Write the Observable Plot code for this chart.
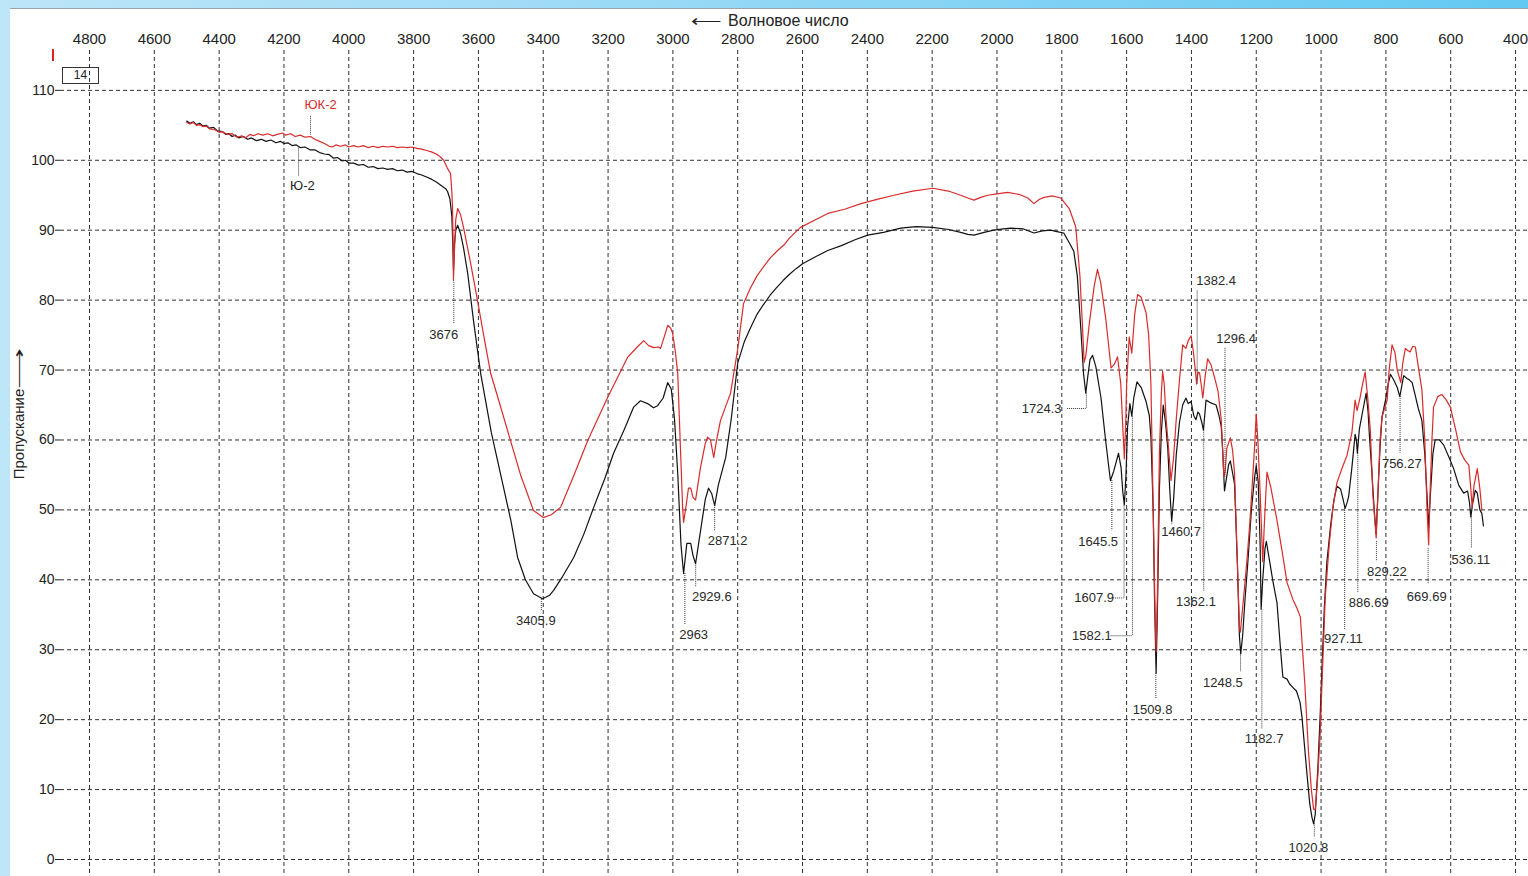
<!DOCTYPE html>
<html>
<head>
<meta charset="utf-8">
<script src="https://cdn.jsdelivr.net/npm/d3@7"></script>
<script src="https://cdn.jsdelivr.net/npm/@observablehq/plot@0.6"></script>
<style>
  html, body { margin: 0; padding: 0; }
  body {
    width: 1528px; height: 876px; overflow: hidden; position: relative;
    background: linear-gradient(to right, #bde6f8 0%, #9bdaf6 40%, #62c9f2 100%);
    font-family: "Liberation Sans", Arial, sans-serif;
  }
  #panel {
    position: absolute; left: 10px; top: 8px; width: 1518px; height: 868px;
    background: #fff; border-top: 1px solid #9aa4aa; box-sizing: border-box;
  }
  #chart { position: absolute; left: 0; top: -1px; }
  .ov { position: absolute; color: #222; white-space: nowrap; }
  .arr { display: inline-block; transform: scaleX(1.9); transform-origin: 50% 50%; margin: 0 9px; }
  .tarr { display: inline-block; transform: scaleX(1.33); transform-origin: 50% 50%; margin: 0 10px 0 0; }
  #title { left: 685px; top: 2px; font-size: 16px; }
  #ylabel { left: 0px; top: 405px; font-size: 15px; transform-origin: 0 0; transform: rotate(-90deg) translate(-50%, 0); }
  #mark { left: 42px; top: 40px; width: 2px; height: 12px; background: #e02020; }
  #box { left: 52px; top: 58px; width: 35px; height: 15px; border: 1px solid #333; font-size: 12px; text-align: center; line-height: 15px; }
</style>
</head>
<body>
<div id="panel">
  <div id="chart"></div>
  <div class="ov" id="title"><span class="tarr">⟵</span>Волновое число</div>
  <div class="ov" id="ylabel">Пропускание<span class="arr">⟶</span></div>
  <div class="ov" id="mark"></div>
  <div class="ov" id="box">14</div>
</div>
<script>
// ---- Data ----
const xTicks = [4800, 4600, 4400, 4200, 4000, 3800, 3600, 3400, 3200, 3000, 2800, 2600, 2400, 2200, 2000, 1800, 1600, 1400, 1200, 1000, 800, 600, 400];
const yTicks = [0, 10, 20, 30, 40, 50, 60, 70, 80, 90, 100, 110];

// Series "Ю-2" (black)
const wnBlack = [4500,4490,4480,4470,4460,4450,4440,4430,4417,4405,4390,4380,4370,4360,4350,4340,4325,4312,4300,4285,4270,4255,4240,4225,4210,4200,4188,4175,4162,4149,4135,4120,4105,4090,4075,4060,4047,4035,4020,4010,4000,3985,3970,3955,3940,3925,3910,3895,3880,3865,3850,3835,3820,3805,3790,3775,3760,3745,3730,3715,3700,3695,3688,3682,3679,3677,3674,3670,3664,3655,3646,3633,3615,3593,3560,3532,3500,3479,3455,3430,3402,3380,3368,3340,3306,3275,3244,3210,3183,3150,3121,3100,3078,3060,3047,3030,3016,3005,2995,2985,2975,2967,2957,2945,2938,2930,2918,2900,2890,2880,2871,2860,2837,2820,2800,2780,2760,2740,2720,2700,2680,2660,2640,2620,2600,2560,2522,2480,2440,2399,2350,2297,2250,2198,2150,2112,2090,2071,2040,2010,1980,1957,1920,1886,1860,1834,1815,1794,1777,1763,1752,1741,1733,1726,1720,1713,1705,1695,1679,1665,1650,1640,1625,1617,1612,1607,1602,1597,1590,1584,1578,1568,1555,1540,1530,1525,1518,1514,1509,1504,1499,1493,1487,1480,1473,1467,1461,1455,1447,1437,1427,1417,1410,1401,1393,1386,1380,1375,1368,1363,1355,1340,1324,1315,1308,1303,1298,1292,1285,1280,1274,1267,1258,1252,1248,1242,1235,1226,1215,1205,1200,1194,1188,1185,1180,1173,1169,1160,1149,1136,1125,1118,1105,1097,1085,1076,1065,1059,1045,1035,1028,1023,1018,1010,1003,995,990,982,970,960,951,940,932,926,920,915,905,895,891,888,882,870,861,855,850,844,836,830,825,818,812,800,793,786,775,765,757,750,745,735,728,719,710,700,689,680,673,668,663,655,648,635,622,605,591,575,560,548,542,538,532,524,518,510,504,499];
const tBlack = [105.6,105.3,105.5,105.1,105.3,104.9,105.0,104.6,104.7,104.2,104.1,103.7,103.8,103.4,103.6,103.2,103.4,103.0,103.2,102.8,103.0,102.7,102.9,102.5,102.7,102.4,102.5,102.1,102.2,101.8,101.9,101.5,101.5,101.1,100.9,100.8,100.3,100.4,99.9,100.0,99.6,99.6,99.3,99.4,99.0,99.1,98.8,98.9,98.7,98.8,98.5,98.6,98.3,98.4,98.1,97.9,97.6,97.3,96.9,96.4,95.9,95.5,94.5,92,88,84.3,88,90,90.7,89.5,87.5,83.8,77,69.5,61,55.2,48.5,43.2,40,38,37.3,37.8,38.5,40.5,43.2,46.5,50.4,54.5,58.1,61.5,64.7,65.6,65.2,64.6,64.9,66,68.2,67.3,63,55.2,45,40.9,45.2,45.2,43.5,42.3,46,51.5,53.1,52.3,50.6,53.5,57.5,63,71,74,76.1,78,79.4,80.7,81.8,82.8,83.7,84.5,85.2,86.2,87.1,87.8,88.6,89.3,89.7,90.3,90.5,90.4,90.1,89.7,89.4,89.3,89.7,90,90.2,90.3,90.2,89.6,89.9,90,89.8,89.6,88.2,87,83.4,75.7,69.5,66.7,69,71.5,72.1,70.5,66,60,54.2,55.5,58.1,56,52.7,50.7,55,61.9,65.2,63.4,66,68.3,67.5,65.5,63.5,60.4,50,37.4,26.6,38,52.7,61,65,62.5,58.8,53,48.4,51.5,57.8,62.5,65,66,65.2,65.5,63.5,62.9,64,63.7,62.5,61.4,65.7,65.3,65,63.5,61.9,58,52.7,54.5,56.5,57,55.5,53.7,42,32,29.4,32,37,42.5,50,54.7,56.3,54,45,35.8,40,44.5,45.5,43,39.9,36.7,30,26.1,25.8,25.1,24.5,24.1,22.5,20.4,13,8,6,5.1,6.5,13,20.4,30,36,42.6,48,51.5,53.4,53,51.5,50.2,51,51.9,56,60.8,60,58.1,61.5,64.5,66.7,64,60,55.9,50,46.5,52,59,63.3,66,68,69.4,68.5,67.5,66.2,68,69.2,68.8,68.6,68.2,66.5,64.5,62.8,58,52,47.5,52,58,60,60,59.3,57.5,55.9,53.5,52.4,52.7,51,49,51,52.8,52.4,50,49.5,47.7];

// Series "ЮК-2" (red)
const wnRed = [4500,4490,4480,4470,4460,4450,4440,4430,4415,4400,4390,4375,4360,4345,4330,4320,4305,4294,4280,4265,4250,4235,4220,4205,4195,4180,4165,4150,4135,4118,4105,4090,4075,4060,4050,4040,4025,4010,4000,3985,3970,3955,3940,3925,3910,3895,3880,3865,3850,3835,3820,3805,3790,3775,3760,3745,3730,3718,3707,3695,3686,3682,3680,3678,3677,3674,3670,3664,3655,3646,3625,3603,3580,3562,3530,3501,3470,3430,3400,3375,3346,3305,3263,3230,3201,3170,3140,3110,3090,3075,3059,3045,3038,3025,3016,3007,3001,2992,2985,2976,2970,2967,2958,2952,2945,2938,2930,2915,2900,2893,2884,2874,2865,2853,2822,2800,2782,2760,2740,2720,2700,2677,2655,2640,2620,2606,2560,2522,2470,2420,2370,2318,2260,2198,2150,2112,2090,2071,2050,2029,2000,1967,1930,1905,1886,1870,1855,1829,1803,1777,1757,1744,1737,1731,1726,1715,1700,1690,1680,1664,1648,1638,1628,1618,1612,1607,1603,1600,1592,1584,1575,1566,1555,1540,1532,1525,1517,1512,1509,1505,1499,1493,1489,1484,1478,1470,1463,1455,1447,1437,1427,1417,1410,1401,1394,1388,1384,1380,1375,1370,1365,1358,1350,1340,1329,1318,1308,1303,1300,1296,1291,1280,1273,1267,1258,1252,1249,1240,1229,1220,1210,1204,1200,1195,1188,1180,1175,1167,1155,1136,1120,1105,1087,1075,1064,1050,1039,1030,1023,1018,1010,1003,995,987,975,963,951,935,920,905,895,889,880,872,864,856,848,840,830,824,818,812,796,790,781,772,765,754,748,740,733,725,717,709,700,689,680,673,668,664,658,653,640,627,615,601,585,570,555,544,538,534,528,518,510,504];
const tRed = [105.4,105.2,105.4,105.0,105.1,104.8,104.9,104.5,104.4,104.0,104.1,103.7,103.8,103.3,103.5,103.2,103.7,103.5,103.8,103.6,103.8,103.5,103.7,103.9,103.6,103.8,103.4,103.6,103.3,103.4,103.0,102.7,102.4,102.0,101.9,102.2,102.0,102.2,101.9,102.1,101.9,102.1,101.8,102.0,101.8,102.0,101.9,102.0,101.8,101.9,101.8,101.9,101.7,101.6,101.4,101.2,100.9,100.5,100.0,98.8,98.1,95.5,93.3,88,82.8,87,91.5,93.1,92.2,90.4,85.5,80,74,69.5,64.5,59.9,55,49.9,48.9,49.3,50.4,55,59.9,63.2,66.1,69,71.8,73.3,74.2,73.5,73.2,73.3,73.1,75,76.4,76,75.3,72.5,69.5,58,50.4,48.2,51,53.1,53.1,51.8,51.4,56,59.5,60.4,60,57.5,60,62.8,66.7,73,79.5,81.8,83.5,84.8,86,87.1,88,88.9,89.8,90.4,91.5,92.4,93,93.8,94.4,95,95.6,96,95.6,95,94.6,94.3,94.7,95,95.2,95.4,95.1,94.6,93.8,94.4,94.7,94.9,94.6,93.1,90.5,83.4,77,71.1,72,76.7,82,84.4,82.5,77.2,70.3,70.8,71.9,68,62,57.3,62,68,74.7,72.4,78,80.8,80.4,78.2,75,68,47.6,35,29.7,38,57.8,66.5,69.8,68,62.9,58.5,54.2,57.5,62.9,68.5,73.6,73.1,74.2,74.9,72.6,70,68,69.7,69.6,68,66,69,71.6,70.8,69,67,62.9,58,54.7,55.5,58.8,60.3,58.5,55.3,42,33.3,32.5,37,42.6,48,55.3,60,63.7,59.9,52.4,42.6,48,55.4,53.2,48.5,44,39.6,37.2,36,34.7,25,15.5,10,7.2,7.1,12,17.9,28,37.6,45,50.5,53.9,56,57.8,61,65.7,64.2,66,68,69.7,66,61.3,52,46,53,60,63.3,65.7,70,73.6,72.5,70,68.2,71,73.1,72.8,72.6,73.4,73.3,70.5,67.2,60,50,45,52,60,64.7,66.2,66.5,65.8,64.7,61.5,58.3,57,56.4,53,50.4,53.5,55.9,53,50];

// Peak annotations: label text, leader wavenumber, leader ends, label centre
const peakText   = ["3676","3405.9","2963","2929.6","2871.2","1724.3","1645.5","1607.9","1582.1","1509.8","1460.7","1382.4","1296.4","1362.1","1248.5","1182.7","1020.8","927.11","886.69","829.22","756.27","669.69","536.11"];
const peakWn     = [3676,3405.9,2963,2929.6,2871.2,1724.3,1645.5,1607.9,1582.1,1509.8,1460.7,1382.4,1296.4,1362.1,1248.5,1182.7,1020.8,927.11,886.69,829.22,756.27,669.69,536.11];
const leaderTop  = [82.5,37.2,40.9,42.3,50.6,66.7,54.2,50.7,63.4,26.6,48.4,81.3,73.1,61.4,29.4,35.7,5.1,50.2,58.1,45.5,66.2,44.5,49.0];
const leaderBot  = [76.5,35.5,33.6,38.9,47.0,64.5,47.0,37.4,32.0,23.0,47.8,68.0,54.7,38.4,26.8,18.6,3.2,32.8,38.1,42.6,58.1,39.4,44.5];
const labelWn    = [3707,3423,2936,2880,2831,1862,1688,1700,1707,1520,1432,1324,1262,1386,1303,1176,1039,931,853,797,751,674,538];
const labelT     = [75.0,34.2,32.2,37.5,45.6,64.5,45.4,37.4,32.0,21.4,46.8,82.7,74.4,36.8,25.3,17.3,1.6,31.5,36.7,41.2,56.6,37.6,42.8];
// horizontal leader part (only for a few labels): starts at this wavenumber
const hLeaderFrom = [null,null,null,null,null,1782,null,1640,1648,null,null,null,null,null,null,null,null,null,null,null,null,null,null];

// Series labels
const seriesName  = ["ЮК-2", "Ю-2"];
const seriesColor = ["#d92b2b", "#222"];
const seriesLeaderWn  = [4118, 4155];
const seriesLeaderTop = [106.3, 101.9];
const seriesLeaderBot = [103.6, 97.6];
const seriesLabelWn = [4087, 4143];
const seriesLabelT  = [108.0, 96.3];

// ---- Build tables ----
const black = wnBlack.map((w, i) => ({wn: w, t: tBlack[i]}));
const red = wnRed.map((w, i) => ({wn: w, t: tRed[i]}));
const peaks = peakText.map((s, i) => ({s, wn: peakWn[i], y1: leaderTop[i], y2: leaderBot[i], lx: labelWn[i], ly: labelT[i], hx: hLeaderFrom[i]}));
const hPeaks = peaks.filter(d => d.hx != null);
const series = seriesName.map((s, i) => ({s, c: seriesColor[i], wn: seriesLeaderWn[i], y1: seriesLeaderTop[i], y2: seriesLeaderBot[i], lx: seriesLabelWn[i], ly: seriesLabelT[i]}));

const grid = {stroke: "#1a1a1a", strokeWidth: 1, strokeDasharray: "4,3", strokeOpacity: 0.9};
const dotted = {stroke: "#333", strokeWidth: 1, strokeDasharray: "1,1"};

const chart = Plot.plot({
  width: 1518,
  height: 868,
  marginLeft: 50,
  marginRight: 0,
  marginTop: 42,
  marginBottom: 0,
  style: {fontFamily: "'Liberation Sans', Arial, sans-serif", background: "transparent", color: "#222"},
  x: {domain: [4889.5, 360]},
  y: {domain: [-2.43, 115.7]},
  marks: [
    Plot.ruleX(xTicks, grid),
    Plot.ruleY(yTicks, grid),
    Plot.axisX(xTicks, {anchor: "top", tickSize: 0, tickPadding: 7, fontSize: 15, label: null, tickFormat: d => String(d)}),
    Plot.axisY(yTicks, {anchor: "left", tickSize: 5, tickPadding: 1, fontSize: 14, label: null, stroke: "#222"}),
    Plot.line(black, {x: "wn", y: "t", stroke: "#111", strokeWidth: 1.2}),
    Plot.line(red, {x: "wn", y: "t", stroke: "#d92b2b", strokeWidth: 1.2}),
    Plot.ruleX(peaks, {x: "wn", y1: "y1", y2: "y2", ...dotted}),
    Plot.ruleY(hPeaks, {y: "ly", x1: "hx", x2: "wn", ...dotted}),
    Plot.text(peaks, {x: "lx", y: "ly", text: "s", fontSize: 13, fill: "#2a2a2a"}),
    Plot.ruleX(series, {x: "wn", y1: "y1", y2: "y2", ...dotted}),
    Plot.text(series, {x: "lx", y: "ly", text: "s", fontSize: 13, fill: "c"})
  ]
});
document.getElementById("chart").appendChild(chart);
</script>
</body>
</html>
